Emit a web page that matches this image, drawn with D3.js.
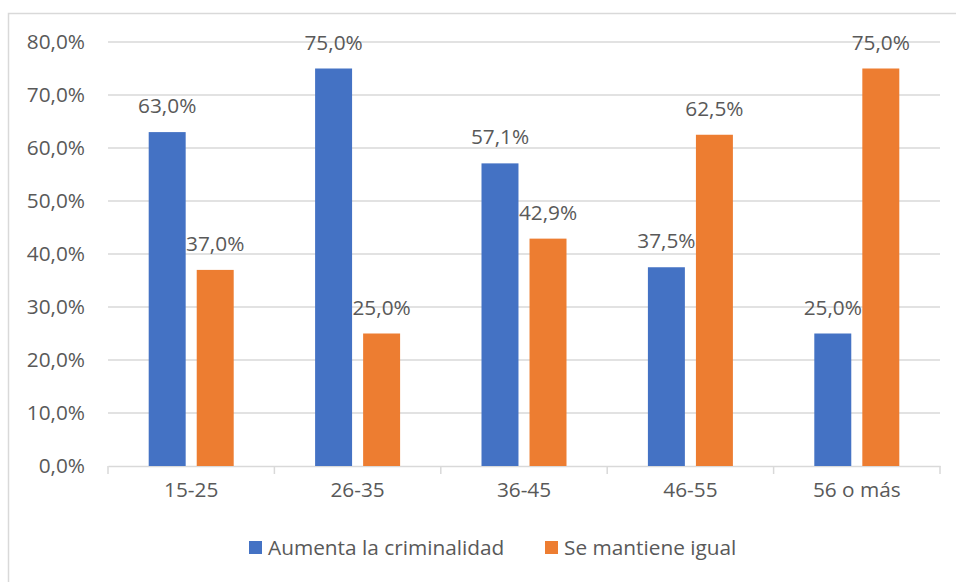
<!DOCTYPE html>
<html>
<head>
<meta charset="utf-8">
<script src="https://cdn.jsdelivr.net/npm/d3@7"></script>
<style>
  body { margin: 0; background: #fff; }
  text { font-family: "Open Sans", sans-serif; fill: #595959; }
</style>
</head>
<body>
<div id="root"></div>
<script>
// data
const categories = ["15-25", "26-35", "36-45", "46-55", "56 o más"];
const seriesNames = ["Aumenta la criminalidad", "Se mantiene igual"];
const aumenta = [63.0, 75.0, 57.1, 37.5, 25.0];
const mantiene = [37.0, 25.0, 42.9, 62.5, 75.0];
const yTicks = [0, 10, 20, 30, 40, 50, 60, 70, 80];
const colors = ["#4472C4", "#ED7D31"];

const W = 956, H = 582;
const margin = {top: 42, right: 16, bottom: 116, left: 108},
    width = W - margin.left - margin.right,
    height = H - margin.top - margin.bottom;

const fs = "20.8px";
const fmt = v => v.toFixed(1).replace(".", ",") + "%";

const svg = d3.select("#root").append("svg")
    .attr("width", W)
    .attr("height", H);

// chart frame (only left/top visible in the picture)
svg.append("rect")
    .attr("x", 8.5).attr("y", 13.5)
    .attr("width", W + 20).attr("height", H + 20)
    .attr("fill", "none")
    .attr("stroke", "#d9d9d9")
    .attr("stroke-width", 1.5);

const g = svg.append("g")
    .attr("transform", "translate(" + margin.left + "," + margin.top + ")");

// scales
const x0 = d3.scaleBand().domain(categories).range([0, width]).paddingInner(0).paddingOuter(0);
const x1 = d3.scaleBand().domain([0, 1]).range([0, 85]).paddingInner(0.23).paddingOuter(0);
const y = d3.scaleLinear().domain([0, 80]).range([height, 0]);

// grid
g.selectAll(".grid")
    .data(yTicks.slice(1))
    .enter().append("line")
    .attr("x1", 0).attr("x2", width)
    .attr("y1", d => y(d)).attr("y2", d => y(d))
    .attr("stroke", "#d9d9d9")
    .attr("stroke-width", 1.3);

// y axis labels
const yAxis = d3.axisLeft(y).tickValues(yTicks).tickFormat(fmt).tickSize(0).tickPadding(23);
g.append("g").call(yAxis)
    .call(s => s.select(".domain").remove())
    .selectAll("text")
    .style("font-size", fs)
    .attr("fill", "#595959");

// x axis
const xAxis = d3.axisBottom(x0).tickSize(0).tickPadding(16);
const xg = g.append("g")
    .attr("transform", "translate(0," + height + ")")
    .call(xAxis);
xg.select(".domain").attr("stroke", "#d9d9d9").attr("stroke-width", 1.5);
xg.selectAll("text").style("font-size", fs).attr("fill", "#595959");
// category separators
xg.selectAll(".sep")
    .data(d3.range(categories.length + 1))
    .enter().append("line")
    .attr("x1", i => i * x0.bandwidth()).attr("x2", i => i * x0.bandwidth())
    .attr("y1", 0).attr("y2", 8)
    .attr("stroke", "#d9d9d9")
    .attr("stroke-width", 1.5);

// bars
const rows = categories.map((c, i) => ({cat: c, vals: [aumenta[i], mantiene[i]]}));
const offset = (x0.bandwidth() - 85) / 2;

const grp = g.selectAll(".cat")
    .data(rows)
    .enter().append("g")
    .attr("transform", d => "translate(" + (x0(d.cat) + offset) + ",0)");

grp.selectAll("rect")
    .data(d => d.vals.map((v, k) => ({k: k, v: v})))
    .enter().append("rect")
    .attr("x", d => x1(d.k))
    .attr("width", x1.bandwidth())
    .attr("y", d => y(d.v))
    .attr("height", d => height - y(d.v))
    .attr("fill", d => colors[d.k]);

grp.selectAll(".lbl")
    .data(d => d.vals.map((v, k) => ({k: k, v: v})))
    .enter().append("text")
    .attr("x", d => x1(d.k) + x1.bandwidth() / 2)
    .attr("y", d => y(d.v) - 19)
    .attr("text-anchor", "middle")
    .style("font-size", fs)
    .text(d => fmt(d.v));

// legend
const legX = [249, 545];
const leg = svg.append("g");
seriesNames.forEach((name, k) => {
    leg.append("rect")
        .attr("x", legX[k]).attr("y", 541)
        .attr("width", 13).attr("height", 13)
        .attr("fill", colors[k]);
    leg.append("text")
        .attr("x", legX[k] + 19).attr("y", 555)
        .style("font-size", fs)
        .text(name);
});
</script>
</body>
</html>
